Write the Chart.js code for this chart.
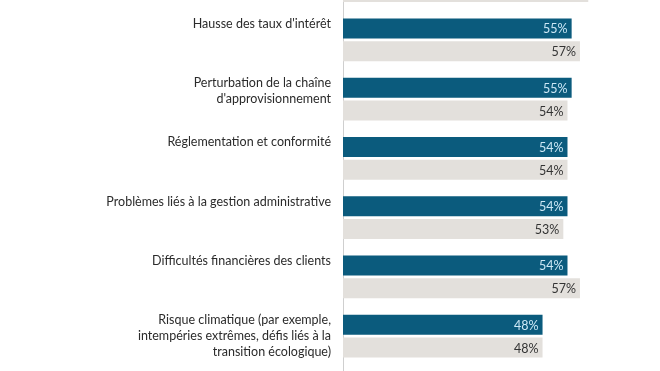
<!DOCTYPE html>
<html>
<head>
<meta charset="utf-8">
<script src="https://cdn.jsdelivr.net/npm/chart.js@4"></script>
<style>
html, body { margin: 0; padding: 0; background: #fff; }
#vue { position: relative; width: 660px; height: 371px; overflow: hidden; }
#boite { position: absolute; left: 0; top: -59px; width: 660px; height: 500px; }
</style>
</head>
<body>
<div id="vue"><div id="boite"><canvas id="graphique"></canvas></div></div>
<script>
// Catégories (la première et la dernière sont coupées par le cadre)
const categories = [
    ['Croissance économique'],
    ["Hausse des taux d'intérêt"],
    ['Perturbation de la chaîne', "d'approvisionnement"],
    ['Réglementation et conformité'],
    ['Problèmes liés à la gestion administrative'],
    ['Difficultés financières des clients'],
    ['Risque climatique (par exemple,', 'intempéries extrêmes, défis liés à la', 'transition écologique)'],
    ["Pénurie de main-d'œuvre qualifiée"]
];
const valeursBleu = [58, 55, 55, 54, 54, 54, 48, 47];
const valeursGris = [59, 57, 54, 54, 53, 57, 48, 47];
const axeMin = 0;
const axeMax = 70;

// Valeurs au bout des barres
const etiquettesValeurs = {
    id: 'etiquettesValeurs',
    afterDatasetsDraw(chart) {
        const ctx = chart.ctx;
        ctx.save();
        ctx.font = '12.5px Lato';
        ctx.textAlign = 'right';
        ctx.textBaseline = 'middle';
        chart.data.datasets.forEach((ds, i) => {
            chart.getDatasetMeta(i).data.forEach((barre, j) => {
                ctx.fillStyle = i === 0 ? '#cde8f6' : '#333333';
                ctx.fillText(ds.data[j] + '%', barre.x - 4, barre.y + 1);
            });
        });
        ctx.restore();
    }
};

// Libellés des catégories, alignés en haut de chaque groupe
const etiquettesCategories = {
    id: 'etiquettesCategories',
    afterDraw(chart) {
        const ctx = chart.ctx;
        const y = chart.scales.y;
        ctx.save();
        ctx.font = '12.5px Lato';
        ctx.fillStyle = '#2b2b2b';
        ctx.textAlign = 'right';
        ctx.textBaseline = 'middle';
        categories.forEach((lignes, i) => {
            const centre = y.getPixelForValue(i);
            lignes.forEach((texte, k) => {
                ctx.fillText(texte, y.right - 12, centre - 16 + k * 16);
            });
        });
        ctx.restore();
    }
};

const ctx = document.getElementById('graphique').getContext('2d');
new Chart(ctx, {
    type: 'bar',
    data: {
        labels: categories.map(l => l.join(' ')),
        datasets: [
            { data: valeursBleu, backgroundColor: '#0b5b7d', categoryPercentage: 0.776, barPercentage: 0.87 },
            { data: valeursGris, backgroundColor: '#e3e0dc', categoryPercentage: 0.776, barPercentage: 0.87 }
        ]
    },
    options: {
        indexAxis: 'y',
        responsive: true,
        maintainAspectRatio: false,
        animation: false,
        layout: { padding: { top: 10, bottom: 16, right: 26, left: 0 } },
        plugins: { legend: { display: false }, tooltip: { enabled: false } },
        scales: {
            x: { display: false, min: axeMin, max: axeMax },
            y: {
                ticks: { display: false },
                grid: { display: false },
                border: { display: true, color: '#cfcfcf', width: 1 },
                afterFit(scale) { scale.width = 343; }
            }
        }
    },
    plugins: [etiquettesValeurs, etiquettesCategories]
});
</script>
</body>
</html>
